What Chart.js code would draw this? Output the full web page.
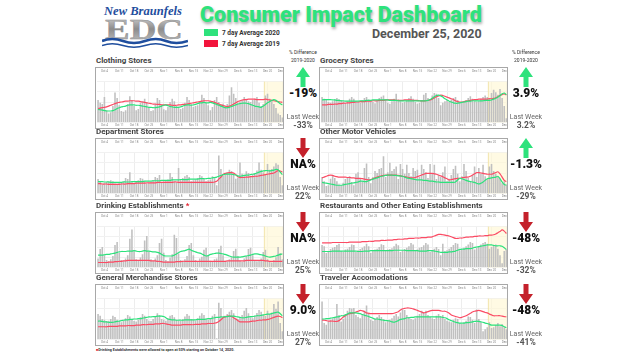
<!DOCTYPE html>
<html>
<head>
<meta charset="utf-8">
<script src="https://cdn.jsdelivr.net/npm/chart.js@4.4.0/dist/chart.umd.min.js"></script>
<style>
  body { margin: 0; width: 640px; height: 360px; background: #fff; position: relative; overflow: hidden; font-family: Roboto, "Open Sans", sans-serif; }
  .title { position: absolute; left: 200px; top: 2px; font-weight: 900; font-size: 21.5px; color: #2ee27c; text-shadow: 1px 2px 3px rgba(0,0,0,.35); white-space: nowrap; }
  .date { position: absolute; left: 372px; top: 26px; font-weight: 700; font-size: 12.5px; color: #555; white-space: nowrap; }
  .sw { position: absolute; left: 204px; width: 14px; height: 7px; }
  .lg { position: absolute; left: 222px; font-weight: 700; font-size: 6.5px; color: #333; white-space: nowrap; }
  .ptitle { position: absolute; font-weight: 700; font-size: 8px; color: #444; white-space: nowrap; line-height: 10px; }
  .box { position: absolute; width: 187px; height: 60px; border: 1px solid #a8a8a8; overflow: hidden; background: #fff; }
  .box canvas { position: absolute; left: 0; top: 0; }
  .c { position: absolute; width: 40px; text-align: center; white-space: nowrap; }
  .pct { font-weight: 900; font-size: 12px; color: #111; line-height: 12px; }
  .lw { font-size: 7px; color: #666; line-height: 8px; }
  .lwv { font-weight: 700; font-size: 8.5px; color: #555; line-height: 9px; }
  .hd { font-size: 5px; color: #333; line-height: 6px; }
  .note { position: absolute; left: 96px; top: 347.5px; font-weight: 700; font-size: 3.65px; color: #333; white-space: nowrap; }
</style>
</head>
<body>
<svg style="position:absolute;left:102px;top:3px" width="86" height="46">
  <defs>
    <linearGradient id="g" x1="0" y1="0" x2="0" y2="1">
      <stop offset="0" stop-color="#e2e2e2"/><stop offset="0.5" stop-color="#8c8c8c"/><stop offset="1" stop-color="#c9c9c9"/>
    </linearGradient>
  </defs>
  <text x="2" y="11.5" font-family="Liberation Serif" font-style="italic" font-weight="700" font-size="12.5" fill="#1f4e9e" textLength="78" lengthAdjust="spacingAndGlyphs">New Braunfels</text>
  <text x="3" y="36" font-family="Liberation Serif" font-weight="700" font-size="29" fill="url(#g)" stroke="#8a8a8a" stroke-width="0.4" textLength="78" lengthAdjust="spacingAndGlyphs">EDC</text>
  <path d="M0,38 Q10,34 21,38 T43,38 T64,38 T86,38" fill="none" stroke="#1f4e9e" stroke-width="2.6"/>
  <path d="M0,42.5 Q10,39 21,42.5 T43,42.5 T64,42.5 T86,42.5" fill="none" stroke="#1f4e9e" stroke-width="1.6"/>
</svg>
<div class="title">Consumer Impact Dashboard</div>
<div class="sw" style="top:29px;background:#2ee27c"></div>
<div class="sw" style="top:40px;background:#f2143c"></div>
<div class="lg" style="top:28.5px">7 day Average 2020</div>
<div class="lg" style="top:39.5px">7 day Average 2019</div>
<div class="date">December 25, 2020</div>
<div class="note"><span style="color:#e0202c">&#9632;</span>Drinking Establishments were allowed to open at 50% starting on October 14, 2020.</div>
<script>
// tick labels and last-week start
const weekTicks = ['Oct 4','Oct 11','Oct 18','Oct 25','Nov 1','Nov 8','Nov 15','Nov 22','Nov 29','Dec 6','Dec 13','Dec 20','Dec 27'];
const lastWeekStart = 'Dec 19';

// daily categories Oct 1 - Dec 27
const days = [];
[['Oct', 31], ['Nov', 30], ['Dec', 27]].forEach(([m, n]) => {
  for (let d = 1; d <= n; d++) days.push(m + ' ' + d);
});

// Clothing Stores
const clothingBars = [55,48,45,62,30,22,25, 40,73,60,42,28,26,30, 45,64,55,40,30,33,48, 52,58,50,38,28,30,46, 60,55,44,32,30,38,50, 58,52,40,35,33,36,48, 62,55,45,38,40,42,52, 68,60,48,42,30,38,55, 62,50,44,46,40,45,66, 86,70,60,48,52,55,62, 58,52,50,55,58,62,48, 40,45,66,70,58,52,45, 35,22,18,12];
const clothing2020 = [32,31,30,29,28,28, 28,29,31,34,36,38,39, 40,42,43,43,43,42,42,41, 40,39,38,37,37,36,36,37,38,40,42,43, 41,39,38,37,37,37,38,40,42,43, 43,42,43,44,46,48,48,49,48,48,49,48, 46,44,42,40,38,36,36,37, 39,41,43,45,46,47,47,47,46, 44,42,40,39,38,37,40,44,48, 51,54,56,54,50,46,43];
const clothing2019 = [34,35,36,37,38,40, 42,44,46,48,49,50,51, 52,52,53,53,53,52,52,51, 50,49,48,47,46,45,45,44,44,43,43,43, 43,43,42,42,42,43,43,44,44,45, 46,47,48,49,50,51,52,53,53,53,52,51, 49,47,45,43,41,40,39,40, 42,45,48,51,53,55,56,56,57, 57,57,57,56,56,56,56,57,56, 55,54,53,52,51,50,49];

// Grocery Stores
const groceryBars = [62,58,55,50,48,52,56, 60,57,55,52,48,52,58, 62,58,52,50,48,54,60, 62,56,52,50,47,55,60, 63,66,55,48,46,52,58, 70,56,52,48,50,54,60, 64,58,50,46,48,55,68, 72,60,56,66,72,70,60, 42,48,52,54,50,56,60, 62,55,50,48,50,55,60, 64,58,52,50,52,58,62, 66,62,60,72,80,74,68, 82,60,40,10];
const grocery2020 = [55,56,56,56,56,55,55,54,54,53,53,52,52, 52,52,52,52,52,53,53,53,54,54,54,55,55, 55,55,55,55,55,55,54,54,54,54,53,53,53,53,53, 53,53,53,53,53,53,53,53,53,54,56, 59,63,66,67,65,62,58,55,52,50, 48,47,47,48,49,50,51,52,52,53,53,53, 53,53,53,54,54,54,55,57,59,62,66,70,72,68];
const grocery2019 = [43,43,43,44,44,44,45,45,46,46,47,47,48, 48,49,49,50,50,51,51,51,52,52,52,53,53, 53,54,54,54,55,55,55,55,55,54,54,54,54,55,55, 55,55,54,54,54,53,53,53,53,54,55, 57,60,63,65,67,66,64,62,60,58, 56,53,51,50,50,51,52,53,54,55,56,56, 57,57,57,57,57,58,58,59,60,63,66,68,70,67];

// Department Stores
const deptBars = [35,30,22,25,28,30,32, 30,24,22,26,28,30,38, 35,52,28,25,30,32,38, 36,30,24,26,28,32,40, 38,45,28,30,32,34,50, 40,30,28,62,32,38,42, 45,40,30,32,34,38,45, 42,36,30,32,34,42,40, 20,93,60,44,48,52,58, 55,50,36,38,76,48,46, 54,50,42,46,50,56,76, 58,52,46,72,58,60,66, 74,70,40,20];
const dept2020 = [29,29,29,28,28,28,27,27,27,27, 27,27,28,28,28,28,29,29,29,29,29, 29,30,30,30,30,31,31,31,31,32,32,32,32,32, 33,33,33,33,34,34,34,34,35,35, 35,35,35,36,36,36,36,37,37,38,39,40, 42,44,46,47,47,47,47,46,45,43, 42,43,44,45,45,46,47,48,50,52,54, 55,56,56,55,56,57,59,58,52,46];
const dept2019 = [24,24,23,23,23,22,22,22,22,22, 22,23,23,23,24,24,24,24,25,25,25, 25,25,26,26,26,26,26,27,27,27,27,27,27,27, 27,28,28,27,27,27,27,27,27,27, 27,27,27,27,27,27,27,27,27,27,28,30, 35,40,46,49,50,51,51,50,46,41, 39,39,39,40,40,41,41,42,42,43,44, 45,46,47,48,49,50,53,56,55,52];

// Other Motor Vehicles
const motorBars = [40,30,18,20,36,45,38, 30,22,20,26,35,40,42, 28,20,48,52,36,30,62, 73,40,25,40,55,50,60, 62,91,40,52,75,55,60, 66,35,72,60,48,70,50, 42,62,55,58,40,70,60, 52,38,72,48,70,35,45, 40,52,66,30,36,45,60, 68,48,30,42,72,55,38, 28,45,66,40,62,48,70, 42,35,66,72,55,48,40, 36,25,30,22];
const motor2020 = [27,26,25,24,23,22,21,20,20, 20,21,22,23,24,25,26,27,28, 30,30,29,29,31,33,35,37, 38,40,42,43,44,45,45,45,44,44,43,43, 42,40,38,37,36,35,34,33,33,33,32, 32,31,30,30,29,28,28,27,27,27,27, 27,27,27,28,33,37,36,34,32,30, 29,28,27,25,23,25,28,32,36,37, 38,39,40,42,36,28,22,20];
const motor2019 = [38,40,42,44,45,44,42,41,40, 40,40,40,39,39,38,38,37,37, 37,36,35,34,33,34,36,38, 40,42,43,44,45,45,45,45,45,45,44,43, 42,41,40,39,38,38,39,41,43,45,47, 49,49,49,49,48,47,45,43,41,38,36, 33,34,35,36,37,37,38,39,40,40, 42,45,48,51,51,50,49,48,47,47, 47,49,51,53,48,40,32,29];

// Drinking Establishments
const drinkBars = [22,45,50,30,18,15,20, 28,55,62,35,18,16,22, 30,70,93,40,20,18,24, 32,66,77,38,20,16,22, 30,60,70,36,18,15,24, 32,80,72,34,18,16,20, 28,55,60,30,18,15,22, 26,43,48,28,16,14,20, 22,45,53,30,16,15,20, 25,40,46,28,16,14,22, 28,45,48,30,18,15,18, 22,38,43,20,15,12,18, 25,50,35,20];
const drink2020 = [30,30,30,31,32,32,33,34,35,37,38, 39,39,39,40,40,40,41,40,39,39,40, 41,40,40,39,38,38,37,35,32,29,28, 28,28,28,30,33,36,39,40,41,43,45, 42,40,38,36,35,33,30,28,29,32,33, 34,35,35,34,33,32,30,28,26,25,25, 25,25,26,27,28,29,30,32,33,33,32, 31,30,28,26,25,26,27,28,30,32,33];
const drink2019 = [12,12,12,12,12,13,13,13,14,14,15, 15,16,16,17,17,17,17,17,17,17,17, 17,17,17,16,16,16,15,15,14,13,13, 13,13,13,13,14,14,14,15,15,15,15, 15,15,15,15,15,15,15,15,15,15,15, 15,15,15,15,15,15,16,16,16,16,16, 16,16,16,16,17,17,17,17,17,17,17, 17,17,16,16,15,15,15,15,15,15,15];

// Restaurants and Other Eating Establishments
const restBars = [55,52,35,40,45,48,50, 55,58,40,38,44,46,50, 56,55,38,42,45,48,52, 58,52,36,40,44,46,50, 57,55,40,44,45,47,52, 58,54,38,42,45,48,52, 60,56,40,44,48,50,54, 60,56,38,42,46,50,45, 30,58,40,42,46,50,55, 60,58,42,45,48,52,56, 62,60,44,48,52,56,60, 62,58,46,50,54,56,46, 30,10,40,44];
const rest2020 = [39,39,39,39,39,40,40,40,40,40,40,40,40, 40,40,40,40,39,39,39,40,40,40,41,41,41, 41,41,41,41,41,41,41,41,42,42,42,42,42,42,41, 41,41,41,41,41,40,40,40,40,41,41, 41,40,39,38,37,37,37,37,38,38, 39,40,42,44,45,45,46,46,46,47,49,50, 51,52,53,54,55,55,55,54,53,53,53,52,48,44];
const rest2019 = [60,60,60,60,60,61,61,61,61,61,61,61,61, 62,62,62,62,62,62,63,63,63,64,64,64,65, 65,65,66,66,66,67,67,67,68,68,69,69,69,70,70, 71,71,71,72,72,72,73,73,73,74,74, 75,77,79,81,81,80,79,78,77,75, 73,71,71,72,72,73,74,74,75,75,76,76, 77,77,77,78,78,79,79,80,82,85,88,92,89,83];

// General Merchandise Stores
const genBars = [62,58,50,48,45,46,50, 58,55,48,45,42,46,52, 60,56,48,45,44,48,54, 62,58,50,46,45,50,56, 64,60,50,48,46,52,58, 60,54,48,46,45,50,56, 62,58,50,48,46,52,58, 64,60,50,48,52,58,62, 3,90,77,55,58,62,68, 72,64,52,50,54,60,70, 77,64,54,52,58,65,72, 68,60,58,70,62,66,87, 75,93,40,20];
const gen2020 = [45,45,44,43,43,42,42,42,43,44, 45,46,47,48,48,49,49,50,50,51,51, 52,53,54,55,55,56,56,57,57,57,56, 53,50,49,48,48,47,47,47,47,48,48,48, 48,48,48,49,49,49,49,50,51,51,52,53,54, 54,55,55,56,56,57,57,57,56,55,54, 53,53,54,55,56,56,57,58,58,59, 60,61,62,62,63,65,66,67,63,58];
const gen2019 = [31,31,31,31,31,32,32,32,32,32, 33,33,33,33,34,34,34,34,35,35,35, 36,36,36,37,37,37,38,38,38,39,39, 38,37,36,35,35,35,35,35,36,36,36,36, 36,36,37,37,37,38,38,38,39,39,39,40,41, 44,48,53,55,57,57,56,53,50,46,43, 43,43,43,43,44,45,45,46,47,47, 48,48,49,50,52,54,56,57,56,53];

// Traveler Accomodations
const travelBars = [93,40,36,44,48,52,55, 87,60,44,50,62,70,77, 76,77,60,55,52,62,70, 83,62,48,45,50,55,60, 55,50,42,45,48,52,58, 62,56,66,73,72,60,55, 50,48,52,58,62,70,66, 70,60,55,52,50,58,62, 56,60,50,46,44,42,48, 52,50,40,38,42,46,56, 55,48,40,73,50,42,20, 25,30,42,28,30,35,40, 32,38,30,25];
const travel2020 = [50,50,51,51,52,53,54,55,56,58, 58,60,62,65,65,65,65,64, 63,61,59,58,56,54,52,50, 50,49,48,47,46,46,45,43,42,44,46,49, 50,51,53,53,54,54,55,55,55,55,55,55,55, 55,55,55,55,55,55,54,53,51,48,46,44,42,41, 40,40,40,41,41,42,43,44,45, 44,43,42,40,39,37,35,35,35,35,35,34,31,29];
const travel2019 = [47,47,46,45,45,45,44,44,46,50, 55,58,61,63,64,65,67,69, 71,70,68,65,64,63,63,63, 63,63,63,63,63,63,63,63,64,66,68,72, 75,76,77,77,76,75,73,71,69,67,65,66,68, 70,71,71,71,71,70,69,69,67,64,60,58,56,55, 53,54,56,58,61,64,67,69,70, 71,70,68,66,65,62,60,58,58,58,58,57,56,55];

// % difference 2019-2020 and last week
const pctDiff  = ['-19%', 'NA%', 'NA%', '9.0%', '3.9%', '-1.3%', '-48%', '-48%'];
const lastWeek = ['-33%', '22%', '25%', '27%', '3.2%', '-29%', '-32%', '-41%'];
const trendUp  = [true, false, false, false, true, true, false, false];

const GREEN = '#2be27b', RED = '#fb4b64';
const colLeft = [95, 319], indX = [303, 526];
const rowTop = [67, 138, 212, 284];

const panels = [
  { title: 'Clothing Stores', col: 0, row: 0, bars: clothingBars, y20: clothing2020, y19: clothing2019 },
  { title: 'Department Stores', col: 0, row: 1, bars: deptBars, y20: dept2020, y19: dept2019 },
  { title: 'Drinking Establishments <span style="color:#e0202c">*</span>', col: 0, row: 2, bars: drinkBars, y20: drink2020, y19: drink2019 },
  { title: 'General Merchandise Stores', col: 0, row: 3, bars: genBars, y20: gen2020, y19: gen2019 },
  { title: 'Grocery Stores', col: 1, row: 0, bars: groceryBars, y20: grocery2020, y19: grocery2019 },
  { title: 'Other Motor Vehicles', col: 1, row: 1, bars: motorBars, y20: motor2020, y19: motor2019 },
  { title: 'Restaurants and Other Eating Establishments', col: 1, row: 2, bars: restBars, y20: rest2020, y19: rest2019 },
  { title: 'Traveler Accomodations', col: 1, row: 3, bars: travelBars, y20: travel2020, y19: travel2019 }
];

// shade the last week
const lastWeekShade = {
  id: 'lastWeekShade',
  beforeDatasetsDraw(chart) {
    const { ctx, chartArea, scales: { x } } = chart;
    const half = (x.getPixelForValue(1) - x.getPixelForValue(0)) / 2;
    const left = x.getPixelForValue(days.indexOf(lastWeekStart)) - half;
    ctx.save();
    ctx.fillStyle = 'rgba(255,248,212,0.65)';
    ctx.fillRect(left, chartArea.top, chartArea.right - left + 6, chartArea.bottom - chartArea.top);
    ctx.strokeStyle = '#efdf9a';
    ctx.lineWidth = 0.8;
    ctx.beginPath();
    ctx.moveTo(left, chartArea.top);
    ctx.lineTo(left, chartArea.bottom);
    ctx.stroke();
    ctx.restore();
  }
};

const tickOpts = {
  font: { size: 3, family: 'Roboto' },
  color: '#8a8a8a',
  autoSkip: false,
  maxRotation: 0,
  padding: 1,
  callback: (v, i) => weekTicks.includes(days[i]) ? days[i] : ''
};

function addDiv(cls, html, left, top) {
  const d = document.createElement('div');
  d.className = cls;
  d.innerHTML = html;
  d.style.left = left + 'px';
  d.style.top = top + 'px';
  document.body.appendChild(d);
  return d;
}

function arrowSvg(up) {
  const col = up ? '#2ee27c' : '#c4212b';
  const pts = up ? '7,0 14,10 9.5,10 9.5,20 4.5,20 4.5,10 0,10' : '4.5,0 9.5,0 9.5,10 14,10 7,20 0,10 4.5,10';
  return '<svg width="14" height="20"><polygon points="' + pts + '" fill="' + col + '"/></svg>';
}

panels.forEach((p, k) => {
  const left = colLeft[p.col], top = rowTop[p.row];
  addDiv('ptitle', p.title, left + 1, top - 11);
  const box = addDiv('box', '', left, top);
  const cv = document.createElement('canvas');
  cv.width = 192; cv.height = 60;
  box.appendChild(cv);

  const cx = indX[p.col] - 20;
  if (p.row === 0) {
    addDiv('c hd', '% Difference', cx, 49);
    addDiv('c hd', '2019-2020', cx, 57);
  }
  addDiv('c', arrowSvg(trendUp[k]), cx, top);
  addDiv('c pct', pctDiff[k], cx, top + 20);
  addDiv('c lw', 'Last Week', cx, top + 46);
  addDiv('c lwv', lastWeek[k], cx, top + 54);

  new Chart(cv, {
    type: 'bar',
    data: {
      labels: days,
      datasets: [
        { type: 'line', data: p.y20, borderColor: GREEN, borderWidth: 1.2, pointRadius: 0, tension: 0.3, order: 0 },
        { type: 'line', data: p.y19, borderColor: RED, borderWidth: 1.2, pointRadius: 0, tension: 0.3, order: 1 },
        { data: p.bars, backgroundColor: '#c0c0c0', barPercentage: 0.75, categoryPercentage: 1, order: 2 }
      ]
    },
    options: {
      responsive: false,
      animation: false,
      layout: { padding: { left: 1, right: 0, top: 0, bottom: 0 } },
      plugins: { legend: { display: false }, tooltip: { enabled: false } },
      scales: {
        x: {
          position: 'bottom',
          grid: { color: c => weekTicks.includes(days[c.index]) ? '#ededed' : 'rgba(0,0,0,0)', drawTicks: false, offset: false },
          border: { display: false },
          ticks: tickOpts
        },
        x2: {
          position: 'top', type: 'category', offset: true,
          grid: { display: false },
          border: { display: false },
          ticks: tickOpts
        },
        y: {
          min: 0, max: 100,
          ticks: { display: false, count: 5 },
          grid: { color: '#f1f1f1', drawTicks: false },
          border: { display: false }
        }
      }
    },
    plugins: [lastWeekShade]
  });
});
</script>
</body>
</html>
